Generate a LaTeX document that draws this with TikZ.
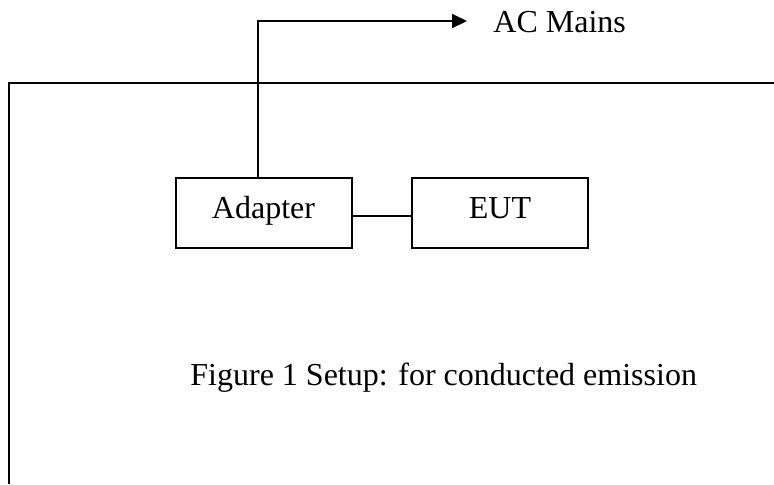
\documentclass[tikz,border=0pt]{standalone}
\usepackage{fontspec}
\setmainfont{Liberation Serif}
\usetikzlibrary{arrows.meta}
\begin{document}
\begin{tikzpicture}[x=0.5pt,y=-0.5pt,
  blockbox/.style={draw,line width=1pt,minimum width=88pt,minimum height=35pt,inner sep=0pt,text height=8pt,text depth=3pt,font=\fontsize{16}{19}\selectfont},
  lbl/.style={inner sep=0pt,font=\fontsize{16}{19}\selectfont},
  wire/.style={line width=1pt}]
\useasboundingbox (0,0) rectangle (774,484);
\coordinate (tl) at (9,83);
\coordinate (tr) at (774,83);
\coordinate (bl) at (9,484);
\draw[line width=1.2pt] (tr) -- (tl) -- (bl);
\node[blockbox] (adapter) at (263.5,213) {Adapter};
\node[blockbox] (eut) at (500,213) {EUT};
\draw[wire] ([yshift=-1.5pt]adapter.east) -- ([yshift=-1.5pt]eut.west);
\coordinate (tip) at (467,21);
\node[lbl,anchor=base west] (ac) at (493,32) {AC Mains};
\draw[wire,-{Triangle[length=7.5pt,width=7pt]}] ([xshift=-3pt]adapter.north) |- (tip);
\node[lbl,anchor=base west] (cap) at (190,385) {Figure 1 Setup: for conducted emission};
\end{tikzpicture}
\end{document}
